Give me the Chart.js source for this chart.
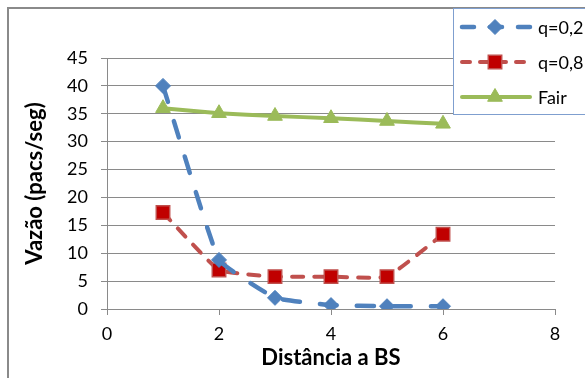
<!DOCTYPE html>
<html>
<head>
<meta charset="utf-8">
<script src="https://cdn.jsdelivr.net/npm/chart.js@4/dist/chart.umd.min.js"></script>
<style>
  html, body { margin: 0; padding: 0; background: #fff; }
  #wrap { position: relative; width: 585px; height: 378px; overflow: hidden; }
  #frame { position: absolute; left: 7px; top: 7px; width: 600px; height: 400px;
           border-top: 2px solid #8a8a8a; border-left: 2px solid #8a8a8a; }
  canvas { position: absolute; left: 0; top: 0; }
</style>
</head>
<body>
<div id="wrap">
  <div id="frame"></div>
  <canvas id="grafico" width="585" height="378"></canvas>
</div>
<script>
  const distancia = [1, 2, 3, 4, 5, 6];
  const vazaoQ02 = [40.0, 8.8, 2.0, 0.7, 0.5, 0.5];
  const vazaoQ08 = [17.3, 7.0, 5.8, 5.8, 5.8, 13.4];
  const vazaoFair = [36.0, 35.1, 34.6, 34.2, 33.7, 33.2];
  const nomes = ["q=0,2", "q=0,8", "Fair"];
  const xTicks = [0, 2, 4, 6, 8];
  const yTicks = [0, 5, 10, 15, 20, 25, 30, 35, 40, 45];

  const fonte = "Lato, 'DejaVu Sans', sans-serif";

  function pontos(valores) {
    return distancia.map((x, i) => ({ x: x, y: valores[i] }));
  }

  // legenda desenhada a mao, como a do Excel (cortada na borda direita)
  const legendaExcel = {
    id: "legendaExcel",
    afterDraw(chart) {
      const ctx = chart.ctx;
      const linhas = [27, 62, 97];
      ctx.save();
      ctx.fillStyle = "#fff";
      ctx.fillRect(453, 8, 140, 107);
      ctx.strokeStyle = "#7f9fcf";
      ctx.lineWidth = 1;
      ctx.strokeRect(453.5, 8.5, 140, 106);
      chart.data.datasets.forEach((ds, i) => {
        const y = linhas[i];
        ctx.save();
        ctx.strokeStyle = ds.borderColor;
        ctx.lineWidth = ds.borderWidth;
        ctx.lineCap = ds.borderCapStyle || "butt";
        ctx.setLineDash(ds.legendDash || []);
        ctx.beginPath();
        ctx.moveTo(462, y);
        ctx.lineTo(530, y);
        ctx.stroke();
        ctx.restore();
        ctx.fillStyle = ds.pointBackgroundColor;
        ctx.strokeStyle = ds.pointBorderColor;
        ctx.lineWidth = ds.pointBorderWidth;
        Chart.helpers.drawPoint(ctx, {
          pointStyle: ds.pointStyle, radius: ds.pointRadius, rotation: 0, borderWidth: ds.pointBorderWidth
        }, 495, y);
        ctx.fillStyle = "#000";
        ctx.font = "18px " + fonte;
        ctx.textBaseline = "middle";
        ctx.fillText(ds.label, 538, y + 1);
      });
      ctx.restore();
    }
  };

  new Chart(document.getElementById("grafico"), {
    type: "scatter",
    data: {
      datasets: [
        {
          label: nomes[0],
          data: pontos(vazaoQ02),
          showLine: true,
          tension: 0.1,
          borderColor: "#4f81bd",
          borderWidth: 4.5,
          borderDash: [17, 20],
          borderCapStyle: "round",
          legendDash: [12, 16],
          pointStyle: "rectRot",
          pointRadius: 7.5,
          pointBackgroundColor: "#4f81bd",
          pointBorderColor: "#4f81bd",
          pointBorderWidth: 1
        },
        {
          label: nomes[1],
          data: pontos(vazaoQ08),
          showLine: true,
          tension: 0.12,
          borderColor: "#c0504d",
          borderWidth: 4,
          borderDash: [11, 11],
          borderCapStyle: "round",
          legendDash: [8, 10],
          pointStyle: "rect",
          pointRadius: 9.5,
          pointBackgroundColor: "#c00000",
          pointBorderColor: "#c0504d",
          pointBorderWidth: 1.5
        },
        {
          label: nomes[2],
          data: pontos(vazaoFair),
          showLine: true,
          tension: 0.12,
          borderColor: "#9bbb59",
          borderWidth: 4,
          borderCapStyle: "round",
          pointStyle: "triangle",
          pointRadius: 8.5,
          pointBackgroundColor: "#9bbb59",
          pointBorderColor: "#9bbb59",
          pointBorderWidth: 1
        }
      ]
    },
    options: {
      responsive: false,
      animation: false,
      layout: { padding: { left: 0, top: 58, right: 30, bottom: 0 } },
      plugins: {
        legend: { display: false },
        tooltip: { enabled: false }
      },
      scales: {
        x: {
          type: "linear",
          min: xTicks[0],
          max: xTicks[xTicks.length - 1],
          afterFit(scale) { scale.height = 69; },
          afterBuildTicks(scale) { scale.ticks = xTicks.map(v => ({ value: v })); },
          grid: { drawOnChartArea: false, drawTicks: true, tickLength: 6, color: "#8a8a8a" },
          border: { display: true, color: "#8a8a8a", width: 1 },
          ticks: { color: "#000", font: { family: fonte, size: 18 }, padding: 8, maxRotation: 0 },
          title: {
            display: true,
            text: "Distância a BS",
            color: "#000",
            font: { family: fonte, size: 22, weight: "bold" },
            padding: { top: 0, bottom: 7 }
          }
        },
        y: {
          type: "linear",
          min: yTicks[0],
          max: yTicks[yTicks.length - 1],
          afterFit(scale) { scale.width = 107; },
          afterBuildTicks(scale) { scale.ticks = yTicks.map(v => ({ value: v })); },
          grid: { drawOnChartArea: true, drawTicks: true, tickLength: 6, color: "#8a8a8a" },
          border: { display: true, color: "#8a8a8a", width: 1 },
          ticks: { color: "#000", font: { family: fonte, size: 18 }, padding: 13 },
          title: {
            display: true,
            text: "Vazão (pacs/seg)",
            color: "#000",
            font: { family: fonte, size: 22, weight: "bold" },
            padding: { top: 22, bottom: 0 }
          }
        }
      }
    },
    plugins: [legendaExcel]
  });
</script>
</body>
</html>
